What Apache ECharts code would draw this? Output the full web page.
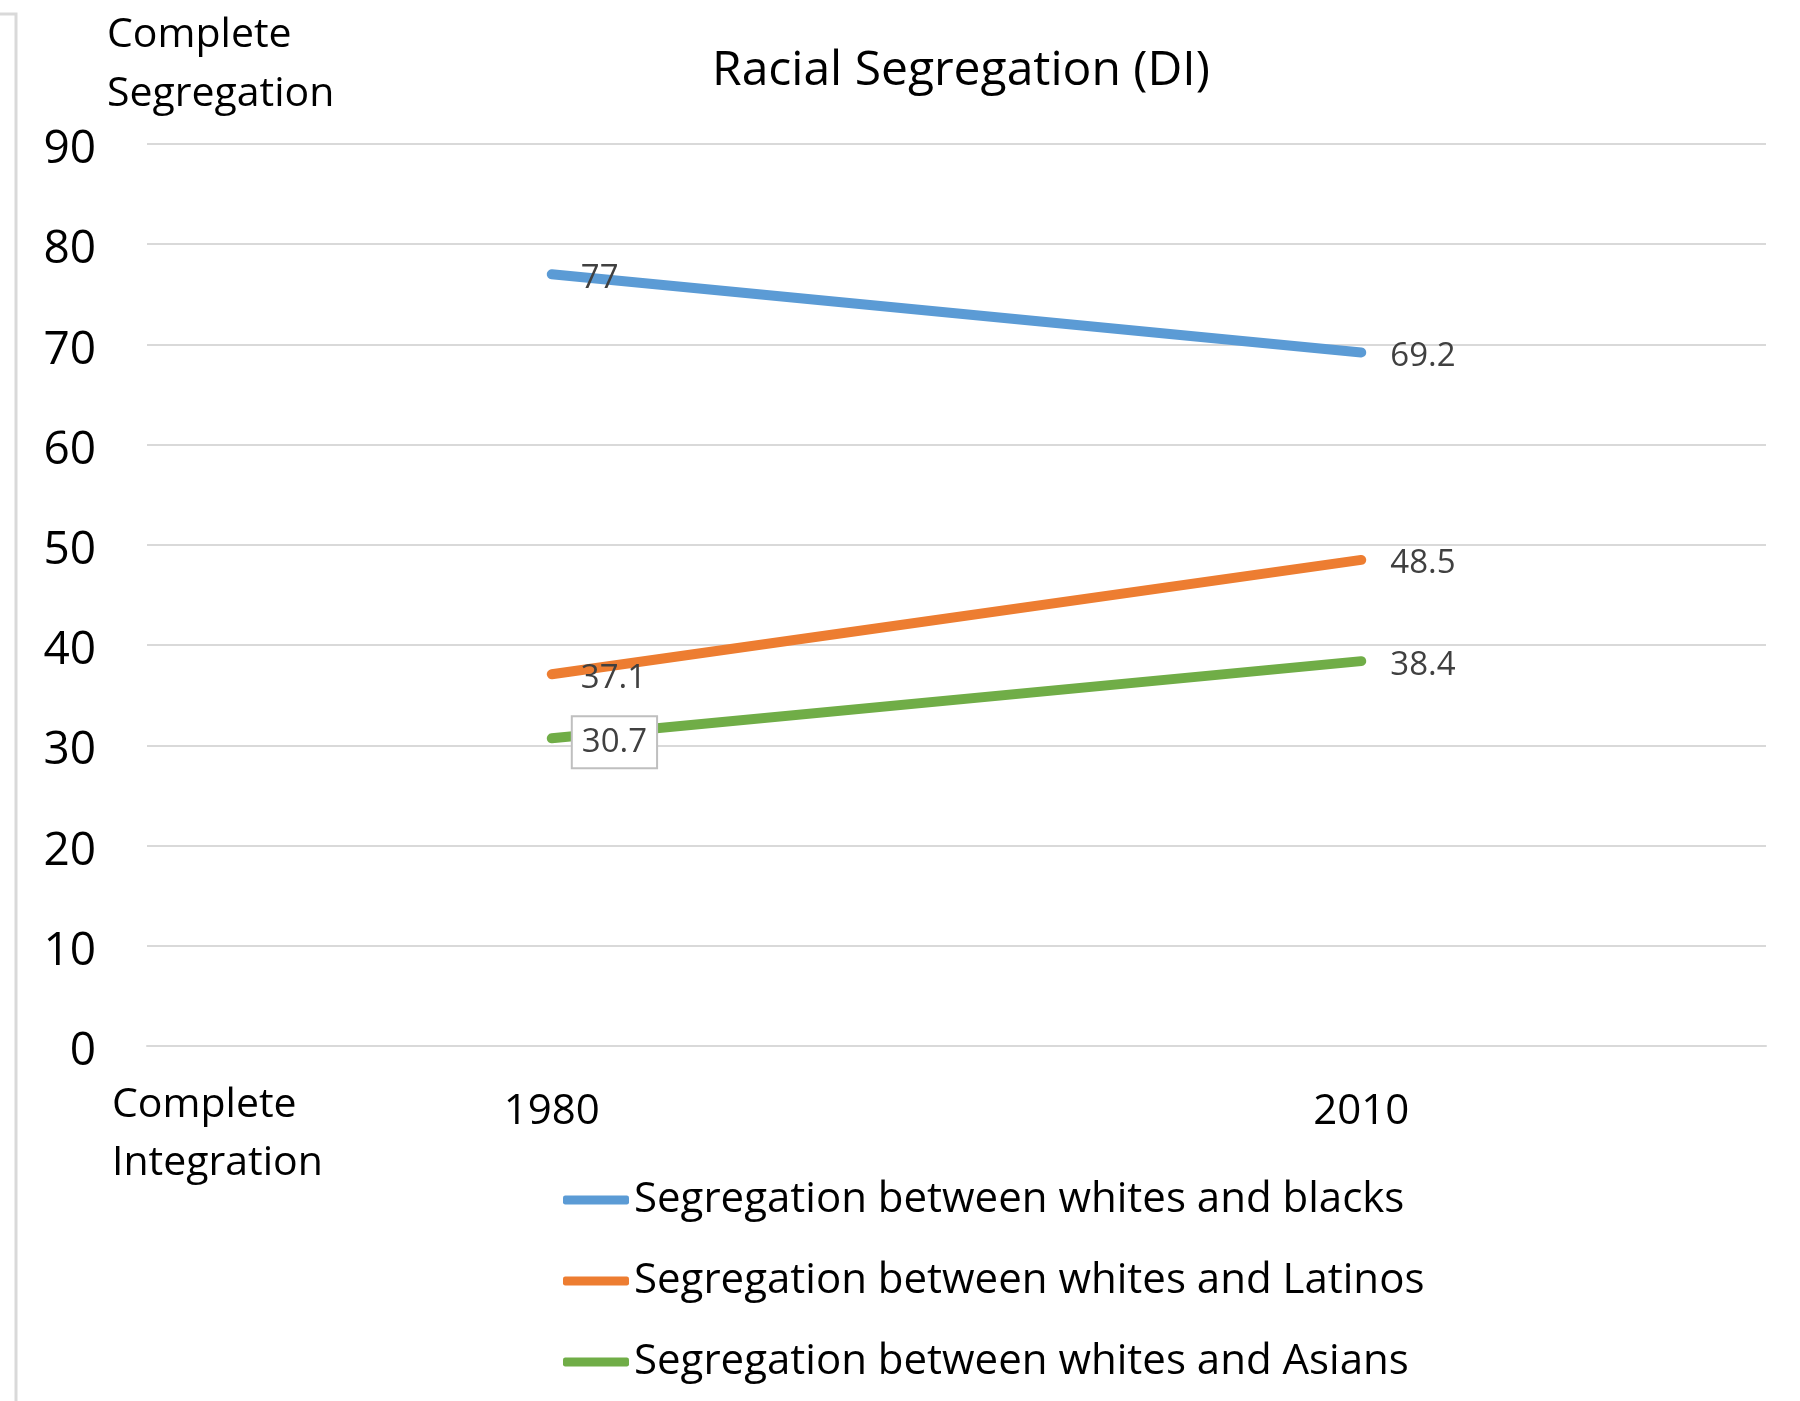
<!DOCTYPE html>
<html>
<head>
<meta charset="utf-8">
<script src="https://cdn.jsdelivr.net/npm/echarts@6/dist/echarts.min.js"></script>
<style>
  html, body { margin: 0; padding: 0; background: #fff; }
  #main { width: 1800px; height: 1401px; }
</style>
</head>
<body>
<div id="main"></div>
<script>
// data
const years = ['1980', '2010'];
const seriesNames = [
  'Segregation between whites and blacks',
  'Segregation between whites and Latinos',
  'Segregation between whites and Asians'
];
const blacks = [77, 69.2];
const latinos = [37.1, 48.5];
const asians = [30.7, 38.4];
const yTicks = [0, 90, 10]; // min, max, interval

const colors = ['#5B9BD5', '#ED7D31', '#70AD47'];
const font = 'Open Sans';

const chart = echarts.init(document.getElementById('main'));

// label for each point, the first Asian point gets a boxed label
const makeData = (vals, boxed) => vals.map((v, i) => {
  if (boxed && i === 0) {
    return {
      value: v,
      label: {
        distance: 21,
        borderColor: '#bfbfbf',
        borderWidth: 2,
        backgroundColor: '#fff',
        padding: [9, 9, 8, 9]
      }
    };
  }
  return v;
});

const makeSeries = (name, vals, color, boxed) => ({
  name: name,
  type: 'line',
  data: makeData(vals, boxed),
  symbol: 'circle',
  symbolSize: 0.1,
  itemStyle: { color: color },
  lineStyle: { color: color, width: 10, cap: 'round' },
  label: {
    show: true,
    position: 'right',
    distance: 29,
    color: '#404040',
    fontFamily: font,
    fontSize: 33,
    offset: [0, 4]
  },
  emphasis: { disabled: true },
  animation: false
});

const option = {
  backgroundColor: '#fff',
  title: {
    text: 'Racial Segregation (DI)',
    left: 707,
    top: 42,
    textStyle: { fontFamily: font, fontSize: 48, fontWeight: 'normal', color: '#000' }
  },
  grid: { left: 147, right: 34, top: 144, bottom: 355 },
  legend: {
    orient: 'vertical',
    left: 563,
    top: 1175,
    padding: 0,
    itemWidth: 66,
    itemHeight: 9,
    itemGap: 31,
    icon: 'roundRect',
    textStyle: { fontFamily: font, fontSize: 42, color: '#000', lineHeight: 50 },
    data: seriesNames
  },
  xAxis: {
    type: 'category',
    data: years,
    boundaryGap: true,
    axisLine: { lineStyle: { color: '#d9d9d9', width: 2 } },
    axisTick: { show: false },
    axisLabel: { fontFamily: font, fontSize: 42, color: '#000', margin: 45 }
  },
  yAxis: {
    type: 'value',
    min: yTicks[0],
    max: yTicks[1],
    interval: yTicks[2],
    axisLine: { show: false },
    axisTick: { show: false },
    axisLabel: {
      margin: 51,
      formatter: '{v|{value}}',
      rich: { v: { fontFamily: font, fontSize: 46, color: '#000', padding: [12, 0, 0, 0] } }
    },
    splitLine: { lineStyle: { color: '#d9d9d9', width: 2 } }
  },
  graphic: [
    // frame edge on the left
    { type: 'polyline', shape: { points: [[0, 14], [16, 14], [16, 1401]] },
      style: { stroke: '#d9d9d9', lineWidth: 3, fill: null } },
    { type: 'text', left: 107, top: 6,
      style: { text: 'Complete\nSegregation', font: '41px "Open Sans"', fill: '#000', lineHeight: 59 } },
    { type: 'text', left: 112, top: 1076,
      style: { text: 'Complete\nIntegration', font: '41px "Open Sans"', fill: '#000', lineHeight: 58 } }
  ],
  series: [
    makeSeries(seriesNames[0], blacks, colors[0], false),
    makeSeries(seriesNames[1], latinos, colors[1], false),
    makeSeries(seriesNames[2], asians, colors[2], true)
  ]
};

chart.setOption(option);
</script>
</body>
</html>
